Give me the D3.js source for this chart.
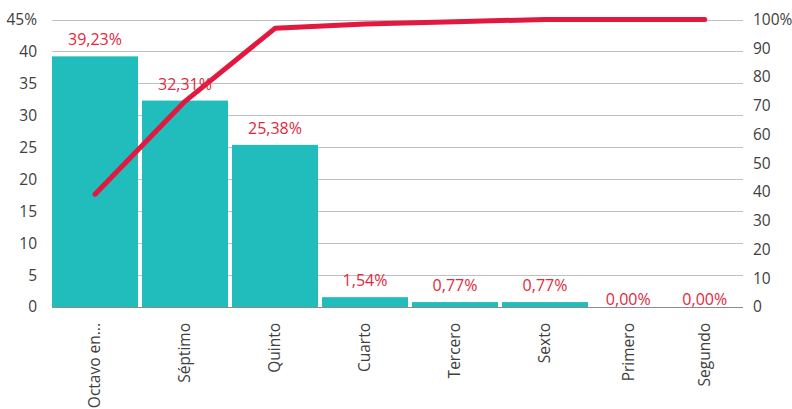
<!DOCTYPE html>
<html>
<head>
<meta charset="utf-8">
<script src="https://cdn.jsdelivr.net/npm/d3@7"></script>
<style>
  body { margin: 0; background: #fff; }
  text { font-family: "Open Sans", "Noto Sans", sans-serif; }
</style>
</head>
<body>
<script>
// data
const categories = ["Octavo en...", "Séptimo", "Quinto", "Cuarto", "Tercero", "Sexto", "Primero", "Segundo"];
const shares = [39.23, 32.31, 25.38, 1.54, 0.77, 0.77, 0.00, 0.00];
const cumulative = [39.23, 71.54, 96.92, 98.46, 99.23, 100, 100, 100];
const leftTicks = [0, 5, 10, 15, 20, 25, 30, 35, 40, 45];
const rightTicks = [0, 10, 20, 30, 40, 50, 60, 70, 80, 90, 100];

const width = 792, height = 409;
const plot = { left: 52, right: 743, top: 19.5, bottom: 307 };

const svg = d3.select("body").append("svg")
  .attr("width", width)
  .attr("height", height);

// last two columns are squeezed in the original, so the band edges are piecewise
const xIdx = d3.scaleLinear().domain([0, 6, 8]).range([50, 590, 743]);
const xMid = i => xIdx(i + 0.5);

const yLeft = d3.scaleLinear().domain([0, 45]).range([plot.bottom, plot.top]);
const yRight = d3.scaleLinear().domain([0, 100]).range([plot.bottom, plot.top]);

// gridlines
svg.append("g")
  .selectAll("line")
  .data(leftTicks.filter(d => d > 0))
  .join("line")
  .attr("x1", plot.left).attr("x2", plot.right)
  .attr("y1", d => Math.round(yLeft(d)) + 0.5)
  .attr("y2", d => Math.round(yLeft(d)) + 0.5)
  .attr("stroke", "#bfbfbf")
  .attr("stroke-width", 1);

// left axis
const leftAxis = svg.append("g")
  .attr("transform", "translate(37,0)")
  .call(d3.axisLeft(yLeft).tickValues(leftTicks).tickSize(0).tickPadding(0)
    .tickFormat(d => d === 45 ? "45%" : d));
leftAxis.select(".domain").remove();
leftAxis.selectAll("text")
  .attr("font-size", 15.5)
  .attr("fill", "#404040")
  .attr("font-family", "Open Sans, sans-serif");

// right axis
const rightAxis = svg.append("g")
  .attr("transform", "translate(753,0)")
  .call(d3.axisRight(yRight).tickValues(rightTicks).tickSize(0).tickPadding(0)
    .tickFormat(d => d === 100 ? "100%" : d));
rightAxis.select(".domain").remove();
rightAxis.selectAll("text")
  .attr("font-size", 15.5)
  .attr("fill", "#404040")
  .attr("font-family", "Open Sans, sans-serif");

// bars
svg.append("g")
  .selectAll("rect")
  .data(shares)
  .join("rect")
  .attr("x", (d, i) => xIdx(i) + 2)
  .attr("width", (d, i) => xIdx(i + 1) - xIdx(i) - 4)
  .attr("y", d => yLeft(d))
  .attr("height", d => yLeft(0) - yLeft(d))
  .attr("fill", "#21bcbc");

// baseline
svg.append("line")
  .attr("x1", plot.left).attr("x2", plot.right)
  .attr("y1", plot.bottom + 0.5).attr("y2", plot.bottom + 0.5)
  .attr("stroke", "#8c8c8c")
  .attr("stroke-width", 1.2);

// cumulative line
const line = d3.line()
  .x((d, i) => xMid(i))
  .y(d => yRight(d));

svg.append("path")
  .datum(cumulative)
  .attr("d", line)
  .attr("fill", "none")
  .attr("stroke", "#e2183f")
  .attr("stroke-width", 5)
  .attr("stroke-linecap", "round")
  .attr("stroke-linejoin", "round");

// data labels
svg.append("g")
  .selectAll("text")
  .data(shares)
  .join("text")
  .attr("x", (d, i) => xMid(i))
  .attr("y", d => d > 0 ? yLeft(d) - 11 : yLeft(0) - 2)
  .attr("text-anchor", "middle")
  .attr("font-size", 16)
  .attr("fill", "#e2283c")
  .text(d => d.toFixed(2).replace(".", ",") + "%");

// category labels
svg.append("g")
  .selectAll("text")
  .data(categories)
  .join("text")
  .attr("transform", (d, i) => `translate(${xMid(i)},323) rotate(-90)`)
  .attr("dy", "0.35em")
  .attr("text-anchor", "end")
  .attr("font-size", 15.5)
  .attr("fill", "#404040")
  .text(d => d);
</script>
</body>
</html>
